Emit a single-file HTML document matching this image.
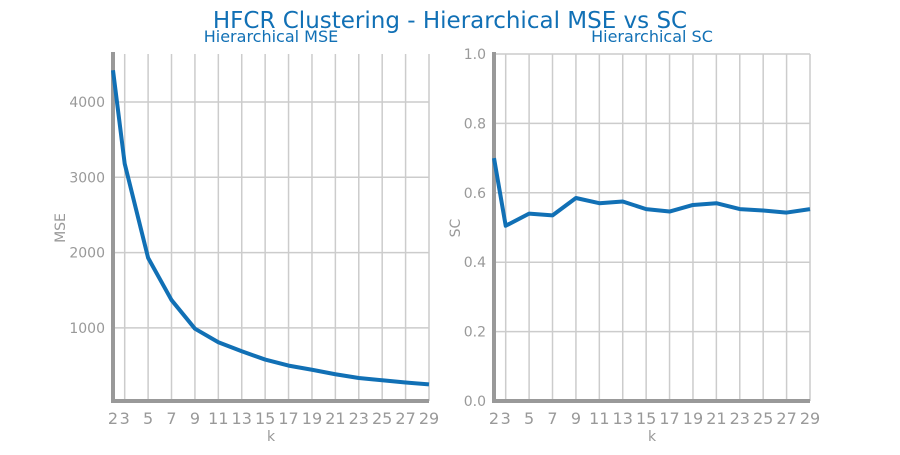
<!DOCTYPE html>
<html><head><meta charset="utf-8"><style>
body{margin:0;background:#fff;font-family:"Liberation Sans","DejaVu Sans",sans-serif}
</style></head><body>
<svg id="c" width="900" height="450" xmlns="http://www.w3.org/2000/svg">
<text x="450" y="28" text-anchor="middle" font-size="23" fill="#1170b5" font-family="DejaVu Sans, sans-serif">HFCR Clustering - Hierarchical MSE vs SC</text>
</svg>
<script>
const kValues=[2,3,5,7,9,11,13,15,17,19,21,23,25,27,29];
const mseValues=[4420,3180,1930,1370,990,810,690,580,500,445,385,335,305,275,250];
const scValues=[0.70,0.505,0.54,0.535,0.585,0.57,0.575,0.553,0.546,0.565,0.57,0.553,0.549,0.543,0.553];
const xTicks=[2,3,5,7,9,11,13,15,17,19,21,23,25,27,29];
const mseTicks=[1000,2000,3000,4000];
const scTicks=[0.0,0.2,0.4,0.6,0.8,1.0];
const svg=document.getElementById('c');
const NS='http://www.w3.org/2000/svg';
function el(t,a,p){const e=document.createElementNS(NS,t);for(const k in a)e.setAttribute(k,a[k]);(p||svg).appendChild(e);return e;}
function panel(opt){
  const g=el('g',{});
  
  
  const x=k=>opt.x0+(k-2)*(opt.x1-opt.x0)/27;
  const y=v=>opt.yb-(v-opt.vmin)*opt.py;
  for(const t of opt.yt){const gl=el('line',{x1:opt.x0,x2:opt.x1,y1:y(t),y2:y(t),stroke:'#cccccc','stroke-width':1.5},g);
    
    const tx=el('text',{x:opt.x0-8,y:y(t)+5,'text-anchor':'end','font-size':14,fill:'#999','font-family':'DejaVu Sans, sans-serif'},g);tx.textContent=opt.fmt(t);
    }
  for(const k of xTicks){const gl=el('line',{x1:x(k),x2:x(k),y1:54,y2:opt.yb,stroke:'#cccccc','stroke-width':1.5},g);
    
    const tx=el('text',{x:x(k),y:opt.yb+23,'text-anchor':'middle','font-size':16,fill:'#999','font-family':'DejaVu Sans, sans-serif'},g);tx.textContent=k;
    }
  const ax=el('line',{x1:opt.x0,x2:opt.x0,y1:52,y2:opt.yb+2,stroke:'#999','stroke-width':4},g);
  
  const bx=el('line',{x1:opt.x0-2,x2:opt.x1,y1:opt.yb,y2:opt.yb,stroke:'#999','stroke-width':4},g);
  
  const pts=opt.vals.map((v,i)=>x(kValues[i])+','+y(v)).join(' ');
  const ln=el('polyline',{points:pts,fill:'none',stroke:'#1170b5','stroke-width':4,'stroke-linejoin':'round'},g);
  
  const t=el('text',{x:(opt.x0+opt.x1)/2,y:42,'text-anchor':'middle','font-size':16,fill:'#1170b5','font-family':'DejaVu Sans, sans-serif'},g);t.textContent=opt.title;
  
  const xl=el('text',{x:(opt.x0+opt.x1)/2,y:441,'text-anchor':'middle','font-size':14,fill:'#999','font-family':'DejaVu Sans, sans-serif'},g);xl.textContent='k';
  
  const lx=opt.x0-opt.lab;
  const yl=el('text',{x:lx,y:228,'text-anchor':'middle','font-size':14,fill:'#999','font-family':'DejaVu Sans, sans-serif',transform:`rotate(-90 ${lx} 228)`},g);yl.textContent=opt.ylab;
  
}
panel({name:'mse-panel',x0:113,x1:429,yb:401,vmin:30,py:0.07533,yt:mseTicks,vals:mseValues,fmt:v=>v,title:'Hierarchical MSE',ylab:'MSE',lab:48});
panel({name:'sc-panel',x0:494,x1:810,yb:401,vmin:0,py:347,yt:scTicks,vals:scValues,fmt:v=>v.toFixed(1),title:'Hierarchical SC',ylab:'SC',lab:34});
</script>
</body></html>
